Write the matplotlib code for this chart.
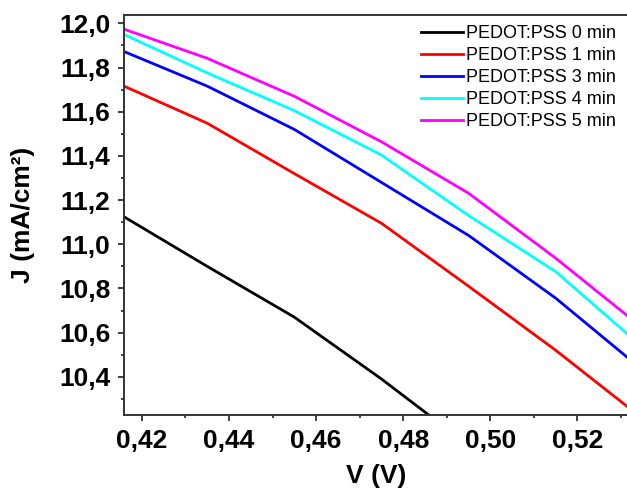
import matplotlib
matplotlib.use('Agg')
import matplotlib.pyplot as plt
from matplotlib.ticker import FuncFormatter, MultipleLocator, AutoMinorLocator

plt.rcParams['font.family'] = ['Liberation Sans', 'DejaVu Sans']

# J-V data (V in volts, J in mA/cm2)
voltage = [0.415, 0.435, 0.455, 0.475, 0.495, 0.515, 0.535]
j_0min = [11.135, 10.90, 10.67, 10.39, 10.09, 9.78, 9.45]
j_1min = [11.724, 11.548, 11.32, 11.095, 10.81, 10.52, 10.21]
j_3min = [11.88, 11.716, 11.52, 11.28, 11.04, 10.756, 10.43]
j_4min = [11.958, 11.776, 11.605, 11.404, 11.13, 10.876, 10.533]
j_5min = [11.98, 11.842, 11.67, 11.464, 11.231, 10.937, 10.62]

labels = ['PEDOT:PSS 0 min', 'PEDOT:PSS 1 min', 'PEDOT:PSS 3 min',
          'PEDOT:PSS 4 min', 'PEDOT:PSS 5 min']
colors = ['black', '#ff0000', '#0000ff', '#00ffff', '#ff00ff']
series = [j_0min, j_1min, j_3min, j_4min, j_5min]

fig = plt.figure(figsize=(6.27, 4.92), dpi=100)
ax = fig.add_axes([124/627, 1 - 415/492, 1.003 - 124/627, (415 - 15)/492])

for j, lab, c in zip(series, labels, colors):
    ax.plot(voltage, j, color=c, lw=2.0, label=lab)

ax.set_xlim(0.4159, 0.5318)
ax.set_ylim(10.227, 12.038)

comma = FuncFormatter(lambda v, p: f'{v:.2f}'.replace('.', ','))
comma1 = FuncFormatter(lambda v, p: f'{v:.1f}'.replace('.', ','))
ax.xaxis.set_major_locator(MultipleLocator(0.02))
ax.xaxis.set_minor_locator(AutoMinorLocator(2))
ax.yaxis.set_major_locator(MultipleLocator(0.2))
ax.yaxis.set_minor_locator(AutoMinorLocator(2))
ax.xaxis.set_major_formatter(comma)
ax.yaxis.set_major_formatter(comma1)

ax.tick_params(which='major', direction='out', length=4.3, width=1.3, color='#333333',
               labelsize=19, pad=5.5)
ax.tick_params(which='minor', direction='out', length=2.5, width=1.3, color='#333333')
for lab in ax.get_xticklabels() + ax.get_yticklabels():
    lab.set_fontweight('bold')
for s in ax.spines.values():
    s.set_linewidth(1.4)
    s.set_color('#333333')

ax.set_xlabel('V (V)', fontsize=19, fontweight='bold', labelpad=8)
ax.set_ylabel('J (mA/cm²)', fontsize=19, fontweight='bold', labelpad=17)

ax.legend(loc='upper right', bbox_to_anchor=(0.974, 0.974), frameon=False,
          fontsize=13, borderpad=0, borderaxespad=0, handlelength=2.3,
          handletextpad=0.17, labelspacing=0.27)

fig.savefig('out.png', dpi=100)
